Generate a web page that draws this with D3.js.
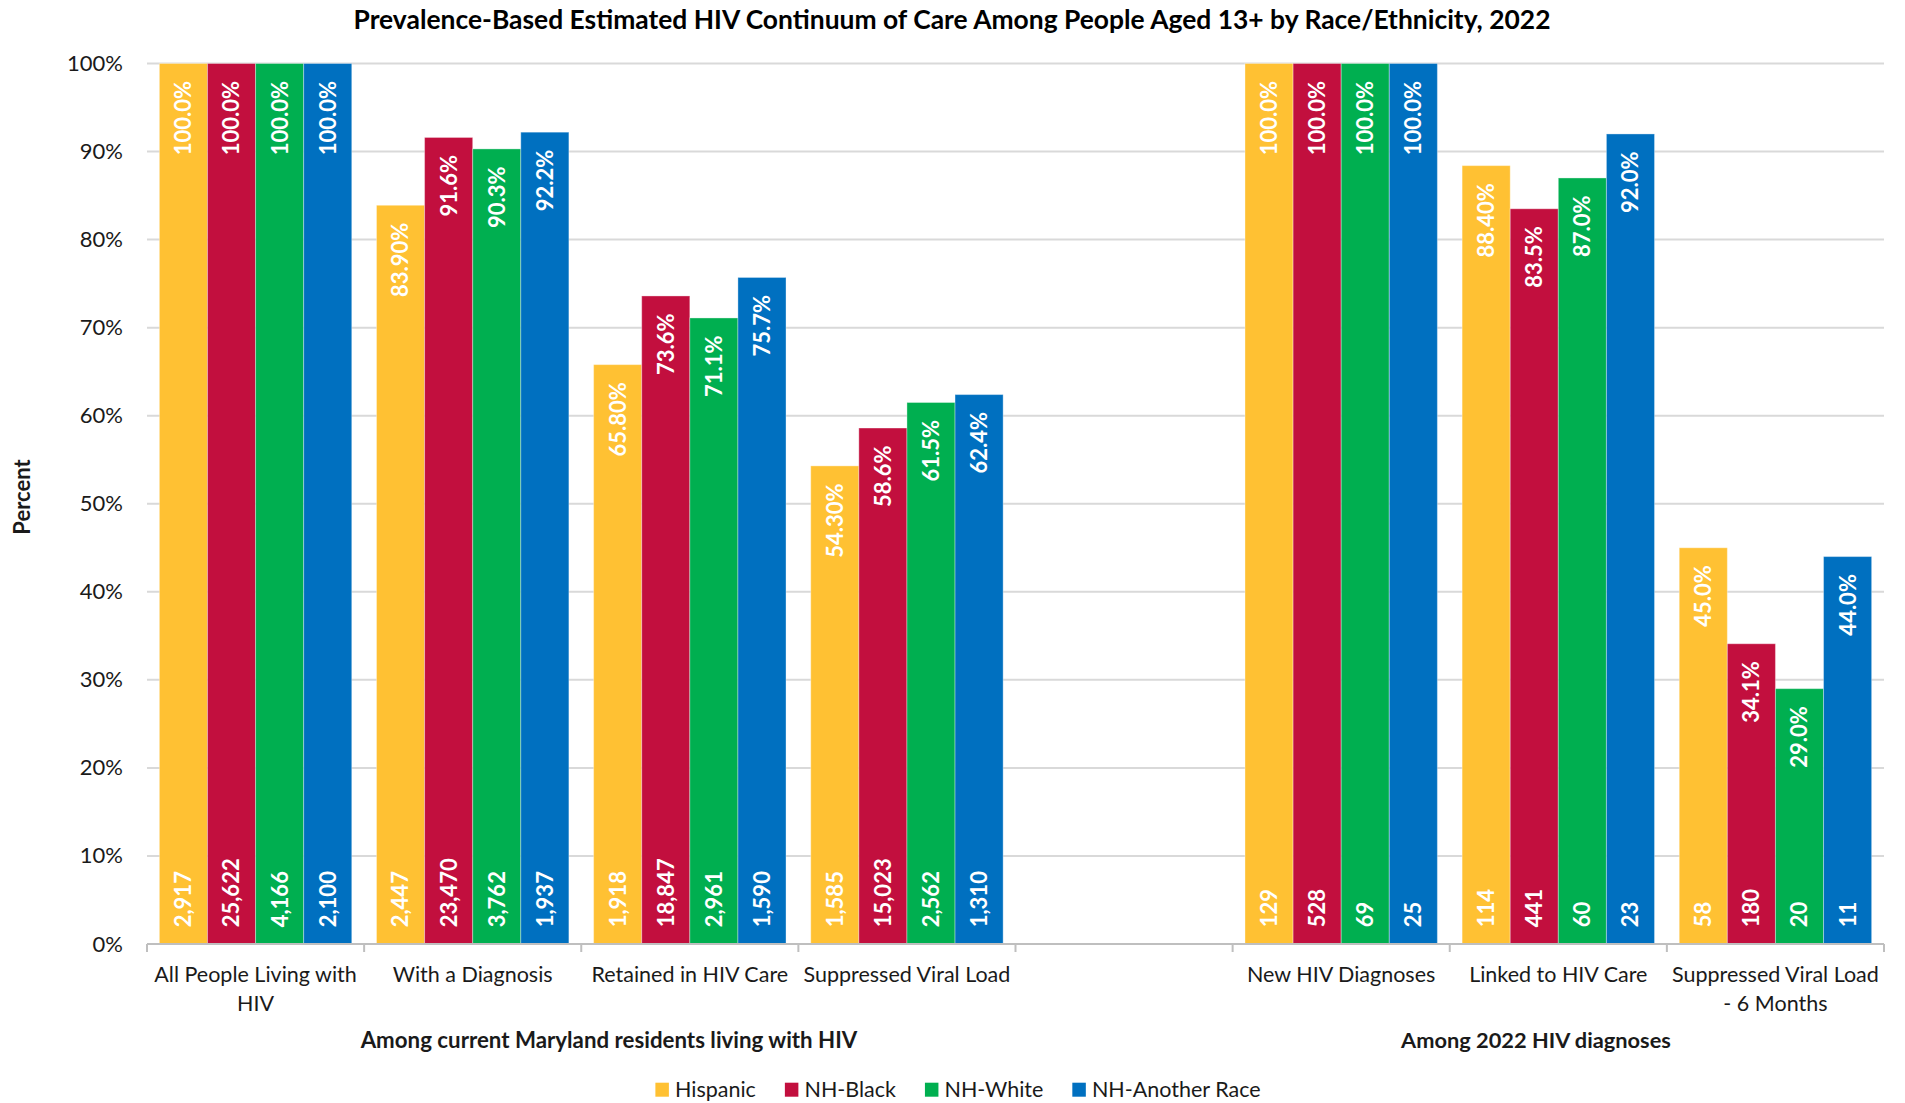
<!DOCTYPE html>
<html>
<head>
<meta charset="utf-8">
<script src="https://cdn.jsdelivr.net/npm/d3@7"></script>
<style>
  html, body { margin: 0; padding: 0; background: #fff; }
  svg { display: block; font-family: Lato, "Open Sans", sans-serif; }
</style>
</head>
<body>
<svg id="chart" width="1905" height="1103"></svg>
<script>
// ---------------- DATA ----------------
const title = "Prevalence-Based Estimated HIV Continuum of Care Among People Aged 13+ by Race/Ethnicity, 2022";
const yAxisTitle = "Percent";
const categories = [
  "All People Living with HIV",
  "With a Diagnosis",
  "Retained in HIV Care",
  "Suppressed Viral Load",
  " ",
  "New HIV Diagnoses",
  "Linked to HIV Care",
  "Suppressed Viral Load - 6 Months"
];
const groupLabels = ["Among current Maryland residents living with HIV", "Among 2022 HIV diagnoses"];
const seriesNames = ["Hispanic", "NH-Black", "NH-White", "NH-Another Race"];
const seriesColors = ["#FFC133", "#C20F3E", "#00AF50", "#0070C0"];

const hispanicPct   = [100.0, 83.9, 65.8, 54.3, null, 100.0, 88.4, 45.0];
const blackPct      = [100.0, 91.6, 73.6, 58.6, null, 100.0, 83.5, 34.1];
const whitePct      = [100.0, 90.3, 71.1, 61.5, null, 100.0, 87.0, 29.0];
const anotherPct    = [100.0, 92.2, 75.7, 62.4, null, 100.0, 92.0, 44.0];

const hispanicPctLabels = ["100.0%", "83.90%", "65.80%", "54.30%", null, "100.0%", "88.40%", "45.0%"];
const blackPctLabels    = ["100.0%", "91.6%", "73.6%", "58.6%", null, "100.0%", "83.5%", "34.1%"];
const whitePctLabels    = ["100.0%", "90.3%", "71.1%", "61.5%", null, "100.0%", "87.0%", "29.0%"];
const anotherPctLabels  = ["100.0%", "92.2%", "75.7%", "62.4%", null, "100.0%", "92.0%", "44.0%"];

const hispanicCounts = [2917, 2447, 1918, 1585, null, 129, 114, 58];
const blackCounts    = [25622, 23470, 18847, 15023, null, 528, 441, 180];
const whiteCounts    = [4166, 3762, 2961, 2562, null, 69, 60, 20];
const anotherCounts  = [2100, 1937, 1590, 1310, null, 25, 23, 11];

const yTicks = [0, 10, 20, 30, 40, 50, 60, 70, 80, 90, 100];

// ---------------- BUILD ----------------
const pctSeries = [hispanicPct, blackPct, whitePct, anotherPct];
const pctLabelSeries = [hispanicPctLabels, blackPctLabels, whitePctLabels, anotherPctLabels];
const countSeries = [hispanicCounts, blackCounts, whiteCounts, anotherCounts];

const rows = [];
categories.forEach((c, ci) => {
  seriesNames.forEach((s, si) => {
    if (pctSeries[si][ci] != null) {
      rows.push({ cat: c, series: s, si, value: pctSeries[si][ci],
                  label: pctLabelSeries[si][ci], count: countSeries[si][ci] });
    }
  });
});

const svg = d3.select("#chart");
const plot = { left: 147, right: 1884, top: 63.5, bottom: 944 };

const x0 = d3.scaleBand().domain(categories).range([plot.left, plot.right]).paddingInner(0).paddingOuter(0);
const x1 = d3.scaleBand().domain(seriesNames).range([0, x0.bandwidth()]).paddingInner(0).paddingOuter(0.257);
const y = d3.scaleLinear().domain([0, 100]).range([plot.bottom, plot.top]);
const color = d3.scaleOrdinal().domain(seriesNames).range(seriesColors);
const fmtCount = d3.format(",");

const textColor = "#1a1a1a";

// gridlines
const grid = svg.append("g").attr("class", "grid");
grid.selectAll("line").data(yTicks.filter(t => t > 0)).join("line")
  .attr("x1", plot.left).attr("x2", plot.right)
  .attr("y1", d => y(d)).attr("y2", d => y(d))
  .attr("stroke", "#D9D9D9").attr("stroke-width", 2);

// y axis labels
const yAxis = d3.axisLeft(y).tickValues(yTicks).tickFormat(d => d + "%").tickSize(0).tickPadding(0);
const yG = svg.append("g").attr("transform", `translate(${plot.left - 24},0)`).call(yAxis);
yG.select(".domain").remove();
yG.selectAll("text").attr("font-family", "Lato, sans-serif").attr("font-size", 22).attr("fill", textColor);

// bars
const barsG = svg.append("g");
barsG.selectAll("rect").data(rows).join("rect")
  .attr("x", d => x0(d.cat) + x1(d.series))
  .attr("width", x1.bandwidth())
  .attr("y", d => y(d.value))
  .attr("height", d => y(0) - y(d.value))
  .attr("fill", d => color(d.series))
  .attr("stroke", "rgba(255,255,255,0.35)")
  .attr("stroke-width", 1);

// percent labels (inside end)
const labelFont = 22;
barsG.selectAll("text.pct").data(rows).join("text")
  .attr("class", "pct")
  .attr("transform", d => `translate(${x0(d.cat) + x1(d.series) + x1.bandwidth() / 2},${y(d.value) + 17.5}) rotate(-90)`)
  .attr("text-anchor", "end")
  .attr("dy", "0.36em")
  .attr("font-family", "Lato, sans-serif")
  .attr("font-weight", "bold")
  .attr("font-size", labelFont)
  .attr("fill", "#fff")
  .text(d => d.label);

// count labels (inside base)
barsG.selectAll("text.cnt").data(rows).join("text")
  .attr("class", "cnt")
  .attr("transform", d => `translate(${x0(d.cat) + x1(d.series) + x1.bandwidth() / 2},${y(0) - 16.7}) rotate(-90)`)
  .attr("text-anchor", "start")
  .attr("dy", "0.36em")
  .attr("font-family", "Lato, sans-serif")
  .attr("font-weight", "bold")
  .attr("font-size", labelFont)
  .attr("fill", "#fff")
  .text(d => fmtCount(d.count));

// x axis
const xG = svg.append("g").attr("transform", `translate(0,${plot.bottom})`);
xG.append("line").attr("x1", plot.left).attr("x2", plot.right).attr("y1", 0).attr("y2", 0)
  .attr("stroke", "#BFBFBF").attr("stroke-width", 2);
const boundaries = categories.map(c => x0(c)).concat([plot.right]);
xG.selectAll("line.tick").data(boundaries).join("line")
  .attr("class", "tick")
  .attr("x1", d => d).attr("x2", d => d).attr("y1", 0).attr("y2", 8)
  .attr("stroke", "#BFBFBF").attr("stroke-width", 2);

// category labels with wrapping
const catFont = 21.5;
const catG = svg.append("g");
categories.forEach(c => {
  const cx = x0(c) + x0.bandwidth() / 2;
  const t = catG.append("text")
    .attr("x", cx)
    .attr("y", 981.5)
    .attr("text-anchor", "middle")
    .attr("font-family", "Lato, sans-serif")
    .attr("font-size", catFont)
    .attr("fill", textColor);
  const words = c.trim().split(/\s+/);
  let line = [];
  let tspan = t.append("tspan").attr("x", cx).attr("dy", 0);
  words.forEach(w => {
    line.push(w);
    tspan.text(line.join(" "));
    if (tspan.node().getComputedTextLength() > x0.bandwidth() - 2 && line.length > 1) {
      line.pop();
      tspan.text(line.join(" "));
      line = [w];
      tspan = t.append("tspan").attr("x", cx).attr("dy", 29).text(w);
    }
  });
});

// helper to fit text width
function fitWidth(sel, target) {
  const fs = parseFloat(sel.attr("font-size"));
  const w = sel.node().getComputedTextLength();
  if (w > 0) sel.attr("font-size", fs * target / w);
}

// group labels
const g1 = svg.append("text").attr("x", 609).attr("y", 1048).attr("text-anchor", "middle")
  .attr("font-family", "Lato, sans-serif").attr("font-weight", "bold").attr("font-size", 22)
  .attr("fill", textColor).text(groupLabels[0]);
fitWidth(g1, 497);
const g2 = svg.append("text").attr("x", 1536).attr("y", 1048).attr("text-anchor", "middle")
  .attr("font-family", "Lato, sans-serif").attr("font-weight", "bold").attr("font-size", 22)
  .attr("fill", textColor).text(groupLabels[1]);
fitWidth(g2, 270);

// title
const tt = svg.append("text").attr("x", 952).attr("y", 28.5).attr("text-anchor", "middle")
  .attr("font-family", "Lato, sans-serif").attr("font-weight", "bold").attr("font-size", 27)
  .attr("fill", "#000").text(title);
fitWidth(tt, 1198);

// y axis title
svg.append("text")
  .attr("transform", `translate(22,497) rotate(-90)`)
  .attr("text-anchor", "middle").attr("dy", "0.36em")
  .attr("font-family", "Lato, sans-serif").attr("font-weight", "bold").attr("font-size", 22)
  .attr("fill", textColor).text(yAxisTitle);

// legend
const legG = svg.append("g");
const legFont = 21.5;
const items = seriesNames.map((s) => {
  const g = legG.append("g");
  g.append("rect").attr("width", 13.5).attr("height", 14).attr("y", -14).attr("fill", color(s));
  const tx = g.append("text").attr("x", 19.6).attr("y", 0)
    .attr("font-family", "Lato, sans-serif").attr("font-size", legFont).attr("fill", textColor).text(s);
  return { g, w: 19.6 + tx.node().getComputedTextLength() };
});
const gap = 29;
const total = d3.sum(items, d => d.w) + gap * (items.length - 1);
let lx = 958 - total / 2;
items.forEach(it => {
  it.g.attr("transform", `translate(${lx},1096.7)`);
  lx += it.w + gap;
});
</script>
</body>
</html>
